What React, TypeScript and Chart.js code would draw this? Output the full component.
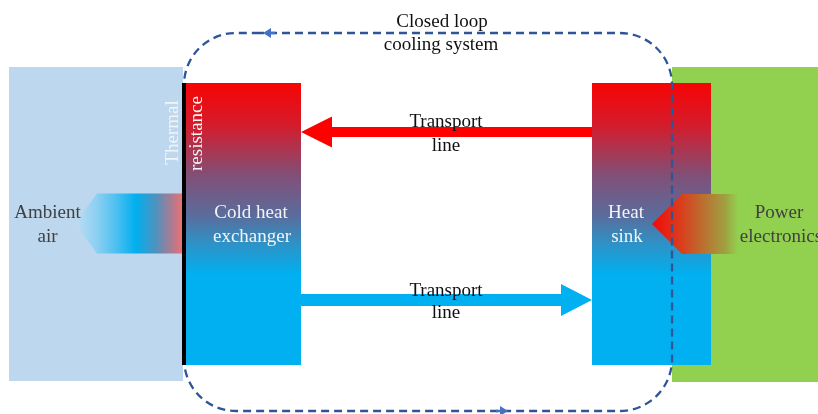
import React, { useEffect, useRef } from "react";
import { Chart, registerables } from "chart.js";

Chart.register(...registerables);

// ---- diagram data (diagram units = x 0..818, y 0..414 top-down) ----
// boxes: [x0, y0, x1, y1]
const ambientBox = [9, 67, 183, 381];
const electronicsBox = [672, 67, 818, 382];
const coldHxBox = [184, 83, 301, 365];
const heatSinkBox = [592, 83, 711, 365];
const thermalWall = [182, 83, 186, 365];

// transport arrows: [xFrom, xTo, y, shaftHalf, headLen, headHalf]
const hotLine = [592, 301, 132, 5, 31, 15.5];
const coldLine = [301, 592, 300, 6, 31, 16];

// heat-flow chevrons: [tipX, tipY, cornerX, halfH, endX, fadeX]
const ambientFlow = [75, 223.5, 97, 30, 183, 183];
const powerFlow = [652, 224, 682, 30, 745, 738];

// closed loop: [x0, y0, x1, y1, radius]
const loopRect = [184, 33, 672, 411, 52];
// loop direction markers: [tipX, y, dir]
const loopMarkers = [
  [263, 33, -1],
  [508, 411, 1],
];

// text labels: [text, x, baselineY, colorIndex]
const labels: [string, number, number, number][] = [
  ["Closed loop", 442, 27, 0],
  ["cooling system", 441, 50, 0],
  ["Transport", 446, 127, 0],
  ["line", 446, 151, 0],
  ["Transport", 446, 296, 0],
  ["line", 446, 318, 0],
  ["Ambient", 47.5, 218, 1],
  ["air", 47.5, 242, 1],
  ["Cold heat", 251, 218, 2],
  ["exchanger", 252, 242, 2],
  ["Heat", 626, 218, 2],
  ["sink", 627, 242, 2],
  ["Power", 779, 218, 1],
  ["electronics", 781, 242, 1],
];
// rotated labels: [text, baselineX, centerY]
const rotatedLabels: [string, number, number][] = [
  ["Thermal", 178, 132.5],
  ["resistance", 202, 133.5],
];

const textColors = ["#111111", "#404040", "#F4F4F4"];
const FONT = "19px 'Liberation Serif', 'Times New Roman', serif";

const diagramPlugin = {
  id: "diagram",
  afterDraw(chart: any) {
    const ctx: CanvasRenderingContext2D = chart.ctx;
    const sx = chart.scales.x;
    const sy = chart.scales.y;
    const X = (v: number) => sx.getPixelForValue(v);
    const Y = (v: number) => sy.getPixelForValue(v);

    const rect = (b: number[], fill: any) => {
      ctx.fillStyle = fill;
      ctx.fillRect(X(b[0]), Y(b[1]), X(b[2]) - X(b[0]), Y(b[3]) - Y(b[1]));
    };
    const vGrad = (b: number[]) => {
      const g = ctx.createLinearGradient(0, Y(b[1]), 0, Y(b[3]));
      g.addColorStop(0, "#F60404");
      g.addColorStop(0.15, "#D41C2C");
      g.addColorStop(0.33, "#805078");
      g.addColorStop(0.47, "#5A6C9C");
      g.addColorStop(0.57, "#2E92C6");
      g.addColorStop(0.68, "#00B0F0");
      g.addColorStop(1, "#00B0F0");
      return g;
    };

    ctx.save();
    // background blocks
    rect(ambientBox, "#BDD7EE");
    rect(electronicsBox, "#92D050");
    rect(coldHxBox, vGrad(coldHxBox));
    rect(heatSinkBox, vGrad(heatSinkBox));

    // chevrons
    const chevron = (c: number[], stops: [number, string][]) => {
      const [tx, ty, cx, hh, ex, fx] = c;
      const g = ctx.createLinearGradient(X(tx), 0, X(fx), 0);
      stops.forEach(([o, col]) => g.addColorStop(o, col));
      ctx.fillStyle = g;
      ctx.beginPath();
      ctx.moveTo(X(tx), Y(ty));
      ctx.lineTo(X(cx), Y(ty - hh));
      ctx.lineTo(X(ex), Y(ty - hh));
      ctx.lineTo(X(ex), Y(ty + hh));
      ctx.lineTo(X(cx), Y(ty + hh));
      ctx.closePath();
      ctx.fill();
    };
    chevron(ambientFlow, [
      [0, "rgba(189,221,242,1)"],
      [0.2, "#8CD0F2"],
      [0.38, "#4EC0F0"],
      [0.56, "#00B0F0"],
      [0.75, "#4E92BE"],
      [0.9, "#B07A90"],
      [1, "#F07070"],
    ]);
    chevron(powerFlow, [
      [0, "#F50808"],
      [0.35, "#D8401E"],
      [0.65, "#B57A34"],
      [0.85, "#A0A040"],
      [1, "#92D050"],
    ]);

    // transport arrows
    const arrow = (a: number[], color: string) => {
      const [x0, x1, y, sh, hl, hh] = a;
      const dir = Math.sign(x1 - x0);
      const hb = x1 - dir * hl;
      ctx.fillStyle = color;
      ctx.beginPath();
      ctx.moveTo(X(x0), Y(y - sh));
      ctx.lineTo(X(hb), Y(y - sh));
      ctx.lineTo(X(hb), Y(y - hh));
      ctx.lineTo(X(x1), Y(y));
      ctx.lineTo(X(hb), Y(y + hh));
      ctx.lineTo(X(hb), Y(y + sh));
      ctx.lineTo(X(x0), Y(y + sh));
      ctx.closePath();
      ctx.fill();
    };
    arrow(hotLine, "#FF0000");
    arrow(coldLine, "#00B0F0");

    // closed loop dashed path
    const [lx0, ly0, lx1, ly1, r] = loopRect;
    ctx.strokeStyle = "#2F5597";
    ctx.lineWidth = 2.3;
    ctx.setLineDash([8, 5]);
    ctx.beginPath();
    ctx.moveTo(X(lx0 + r + 20), Y(ly0));
    ctx.arcTo(X(lx1), Y(ly0), X(lx1), Y(ly1), r);
    ctx.arcTo(X(lx1), Y(ly1), X(lx0), Y(ly1), r);
    ctx.arcTo(X(lx0), Y(ly1), X(lx0), Y(ly0), r);
    ctx.arcTo(X(lx0), Y(ly0), X(lx1), Y(ly0), r);
    ctx.closePath();
    ctx.stroke();
    ctx.setLineDash([]);

    // loop markers
    ctx.fillStyle = "#4472C4";
    ctx.strokeStyle = "#4472C4";
    loopMarkers.forEach(([tx, y, d]) => {
      ctx.beginPath();
      ctx.moveTo(X(tx), Y(y));
      ctx.lineTo(X(tx - d * 8), Y(y - 5));
      ctx.lineTo(X(tx - d * 8), Y(y + 5));
      ctx.closePath();
      ctx.fill();
      ctx.lineWidth = 2.5;
      ctx.beginPath();
      ctx.moveTo(X(tx - d * 7), Y(y));
      ctx.lineTo(X(tx - d * 12), Y(y));
      ctx.stroke();
    });

    // thermal resistance wall
    rect(thermalWall, "#000000");

    // texts
    ctx.font = FONT;
    ctx.textAlign = "center";
    ctx.textBaseline = "alphabetic";
    labels.forEach(([t, x, y, c]) => {
      ctx.fillStyle = textColors[c];
      ctx.fillText(t, X(x), Y(y));
    });
    rotatedLabels.forEach(([t, x, y]) => {
      ctx.save();
      ctx.translate(X(x), Y(y));
      ctx.rotate(-Math.PI / 2);
      ctx.fillStyle = textColors[2];
      ctx.fillText(t, 0, 0);
      ctx.restore();
    });
    ctx.restore();
  },
};

export default function App() {
  const ref = useRef<HTMLCanvasElement | null>(null);
  useEffect(() => {
    if (!ref.current) return;
    const chart = new Chart(ref.current, {
      type: "scatter",
      data: { datasets: [] },
      options: {
        responsive: false,
        animation: false,
        devicePixelRatio: 1,
        layout: { padding: 0 },
        plugins: { legend: { display: false }, tooltip: { enabled: false } },
        scales: {
          x: { type: "linear", min: 0, max: 818, display: false },
          y: { type: "linear", min: 0, max: 414, reverse: true, display: false },
        },
      },
      plugins: [diagramPlugin],
    });
    return () => chart.destroy();
  }, []);
  return (
    <div style={{ position: "absolute", left: 0, top: 0, width: 818, height: 414, background: "#fff" }}>
      <canvas ref={ref} width={818} height={414} style={{ display: "block", width: 818, height: 414 }} />
    </div>
  );
}
